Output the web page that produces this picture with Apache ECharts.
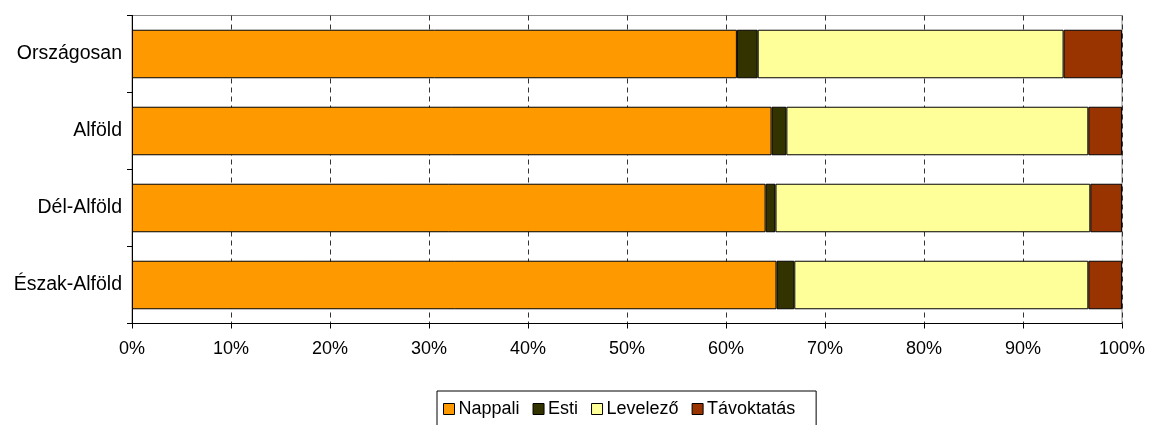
<!DOCTYPE html>
<html><head><meta charset="utf-8">
<script src="https://cdn.jsdelivr.net/npm/echarts@6/dist/echarts.min.js"></script>
<style>html,body{margin:0;padding:0;background:#fff}#c{width:1149px;height:425px}</style>
</head><body><div id="c"></div>
<script>
const categories = ['Országosan', 'Alföld', 'Dél-Alföld', 'Észak-Alföld'];
const nappali = [61.1, 64.6, 64.0, 65.1];
const esti = [2.1, 1.5, 1.0, 1.8];
const levelezo = [30.9, 30.5, 31.8, 29.7];
const tavoktatas = [5.9, 3.4, 3.2, 3.4];
const xTicks = [0, 10, 20, 30, 40, 50, 60, 70, 80, 90, 100];

const FONT = '"Liberation Sans", Arial, sans-serif';
const chart = echarts.init(document.getElementById('c'), null, {renderer: 'canvas'});
function ser(name, data, color) {
  return {
    name, type: 'bar', stack: 'all', data,
    barCategoryGap: '37%',
    itemStyle: {color, borderColor: '#000', borderWidth: 1},
    emphasis: {disabled: true}
  };
}
chart.setOption({
  animation: false,
  textStyle: {fontFamily: FONT},
  grid: {left: 132, right: 27, top: 15.5, bottom: 101.5, show: true, borderColor: '#888', borderWidth: 1, containLabel: false},
  xAxis: {
    type: 'value', min: 0, max: 100, interval: 10,
    axisLine: {show: true, lineStyle: {color: '#000', width: 1}},
    axisTick: {show: true, length: 5, lineStyle: {color: '#000'}},
    axisLabel: {formatter: v => xTicks.includes(v) ? v + '%' : '', color: '#000', fontSize: 18, margin: 17, fontFamily: FONT},
    splitLine: {show: true, lineStyle: {color: '#333', type: [5, 4], width: 1}}
  },
  yAxis: {
    type: 'category', data: categories, inverse: true,
    axisLine: {show: true, lineStyle: {color: '#000', width: 1}},
    axisTick: {show: true, length: 5, lineStyle: {color: '#000'}},
    axisLabel: {color: '#000', fontSize: 19.5, margin: 10, fontFamily: FONT}
  },
  legend: {
    left: 437, top: 391,
    itemWidth: 11, itemHeight: 11, itemGap: 13,
    icon: 'rect',
    padding: [9, 21, 8, 6],
    borderColor: '#000', borderWidth: 1,
    textStyle: {fontSize: 18, color: '#000', fontFamily: FONT, padding: [0, 0, 0, -1]},
    itemStyle: {borderColor: '#000', borderWidth: 1},
    data: ['Nappali', 'Esti', 'Levelező', 'Távoktatás']
  },
  series: [
    ser('Nappali', nappali, '#FF9900'),
    ser('Esti', esti, '#333300'),
    ser('Levelező', levelezo, '#FFFF99'),
    ser('Távoktatás', tavoktatas, '#993300')
  ]
});
</script></body></html>
